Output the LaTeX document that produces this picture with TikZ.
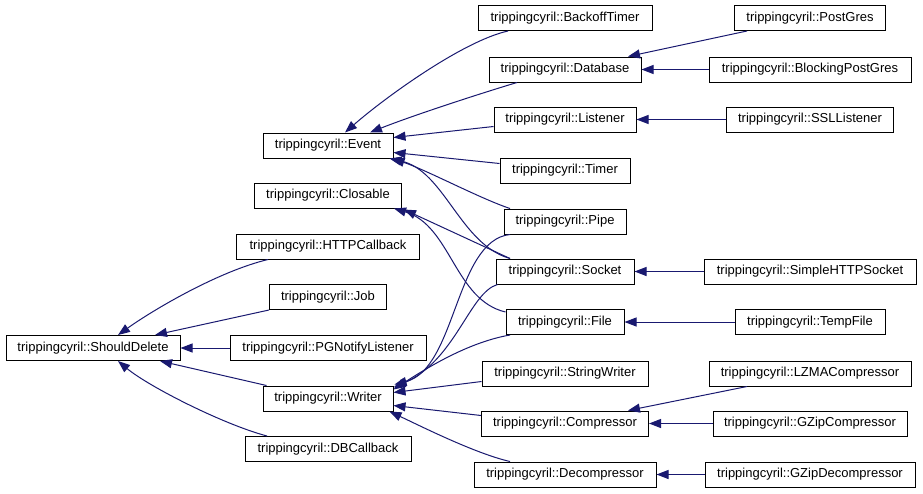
\documentclass[tikz,border=0pt]{standalone}
\usepackage{fontspec}
\setmainfont{Liberation Sans}
\usepackage{tikz}
\usetikzlibrary{arrows.meta,calc}
\definecolor{dnavy}{HTML}{191970}

\begin{document}
\begin{tikzpicture}[x=1pt,y=-1pt,
  cls/.style={draw=black, line width=1pt, minimum height=25pt, inner sep=0pt,
              font=\fontsize{13}{15}\selectfont, minimum width=#1},
  inh/.style={draw=dnavy, line width=1pt, -{Triangle[length=12pt,width=9pt]}}]

  \useasboundingbox[fill=white] (0,0) rectangle (923,493);
  \def\ca{93}\def\cb{328}\def\cc{565}\def\cd{810}

  % base
  \node[cls=174pt] (should) at (\ca,348) {trippingcyril::ShouldDelete};

  % segunda coluna
  \node[cls=130pt] (event)    at (\cb,145.5) {trippingcyril::Event};
  \node[cls=147pt] (closable) at (\cb,195.5) {trippingcyril::Closable};
  \node[cls=183pt] (http)     at (\cb,246.5) {trippingcyril::HTTPCallback};
  \node[cls=117pt] (job)      at (\cb,297)   {trippingcyril::Job};
  \node[cls=196pt] (pgn)      at (\cb,348)   {trippingcyril::PGNotifyListener};
  \node[cls=130pt] (writer)   at (\cb,398.5) {trippingcyril::Writer};
  \node[cls=166pt] (dbcb)     at (\cb,449)   {trippingcyril::DBCallback};

  % terceira coluna
  \node[cls=174pt] (backoff)  at (\cc,18)    {trippingcyril::BackoffTimer};
  \node[cls=152pt] (database) at (\cc,69.5)  {trippingcyril::Database};
  \node[cls=142pt] (listener) at (\cc,119.5) {trippingcyril::Listener};
  \node[cls=130pt] (timer)    at (\cc,170.5) {trippingcyril::Timer};
  \node[cls=122pt] (pipe)     at (\cc,221.5) {trippingcyril::Pipe};
  \node[cls=138pt] (socket)   at (\cc,271.5) {trippingcyril::Socket};
  \node[cls=118pt] (file)     at (\cc,322)   {trippingcyril::File};
  \node[cls=166pt] (stringw)  at (\cc,373.5) {trippingcyril::StringWriter};
  \node[cls=167pt] (compr)    at (\cc,423.5) {trippingcyril::Compressor};
  \node[cls=182pt] (decompr)  at (\cc,474.5) {trippingcyril::Decompressor};

  % quarta coluna
  \node[cls=151pt] (postgres)   at (\cd,18)    {trippingcyril::PostGres};
  \node[cls=202pt] (blocking)   at (\cd,69.5)  {trippingcyril::BlockingPostGres};
  \node[cls=167pt] (ssl)        at (\cd,119.5) {trippingcyril::SSLListener};
  \node[cls=212pt] (simplehttp) at (\cd,271.5) {trippingcyril::SimpleHTTPSocket};
  \node[cls=150pt] (tempfile)   at (\cd,322)   {trippingcyril::TempFile};
  \node[cls=202pt] (lzma)       at (\cd,373.5) {trippingcyril::LZMACompressor};
  \node[cls=194pt] (gzipc)      at (\cd,423.5) {trippingcyril::GZipCompressor};
  \node[cls=210pt] (gzipd)      at (\cd,474.5) {trippingcyril::GZipDecompressor};

  % herança de ShouldDelete
  \draw[inh] ($(http.south)+(-60,0)$) .. controls +(-50,12) and +(35,-25) .. ($(should.north)+(25,0)$);
  \draw[inh] (job.south west) -- ($(should.north)+(62,0)$);
  \draw[inh] (pgn.west) -- (should.east);
  \draw[inh] ($(writer.north west)+(4,0)$) -- ($(should.south)+(67,0)$);
  \draw[inh] ($(dbcb.north)+(-61,0)$) .. controls +(-45,-12) and +(30,25) .. ($(should.south)+(25,0)$);

  % herança de Event
  \draw[inh] ($(backoff.south)+(-57,0)$) .. controls +(-45,10) and +(40,-35) .. ($(event.north)+(17,0)$);
  \draw[inh] ($(database.south)+(-48,0)$) .. controls +(-40,12) and +(40,-16) .. ($(event.north)+(42,0)$);
  \draw[inh] ($(listener.west)+(0,7)$) -- ($(event.east)+(0,-8)$);
  \draw[inh] ($(timer.west)+(0,-7)$) -- ($(event.east)+(0,7)$);
  \draw[inh] ($(pipe.north)+(-55,0)$) .. controls +(-30,-10) and +(35,12) .. ($(event.south east)+(-1,0)$);
  \draw[inh] ($(socket.north)+(-55,0)$) .. controls +(-50,-14) and +(55,12) .. ($(event.south east)+(-4,0)$);

  % herança de Closable
  \draw[inh] ($(socket.north)+(-55,0)$) -- ($(closable.south east)+(2,1)$);
  \draw[inh] ($(file.west)+(0,-10)$) .. controls +(-51,-12) and +(57,17) .. ($(closable.south east)+(-8,0)$);

  % herança de Writer
  \draw[inh] ($(pipe.south)+(-55,0)$) .. controls +(-55,6) and +(62,-16) .. ($(writer.north east)+(1,-1)$);
  \draw[inh] ($(socket.south west)+(2,0)$) .. controls +(-28,8) and +(62,-27) .. ($(writer.east)+(0,-11)$);
  \draw[inh] ($(file.south)+(-55,0)$) .. controls +(-40,7) and +(37,-24) .. ($(writer.east)+(0,-9)$);
  \draw[inh] ($(stringw.west)+(0,8)$) -- ($(writer.east)+(0,-6)$);
  \draw[inh] ($(compr.west)+(0,-8)$) -- ($(writer.east)+(0,7)$);
  \draw[inh] ($(decompr.north)+(-55,0)$) .. controls +(-35,-8) and +(30,14) .. ($(writer.south east)+(-4,0)$);

  % última coluna
  \draw[inh] ($(postgres.south)+(-63,0)$) -- ($(database.north)+(63,0)$);
  \draw[inh] (blocking.west) -- (database.east);
  \draw[inh] (ssl.west) -- (listener.east);
  \draw[inh] (simplehttp.west) -- (socket.east);
  \draw[inh] (tempfile.west) -- (file.east);
  \draw[inh] ($(lzma.south)+(-63,0)$) -- ($(compr.north)+(63,0)$);
  \draw[inh] (gzipc.west) -- (compr.east);
  \draw[inh] (gzipd.west) -- (decompr.east);

\end{tikzpicture}
\end{document}
